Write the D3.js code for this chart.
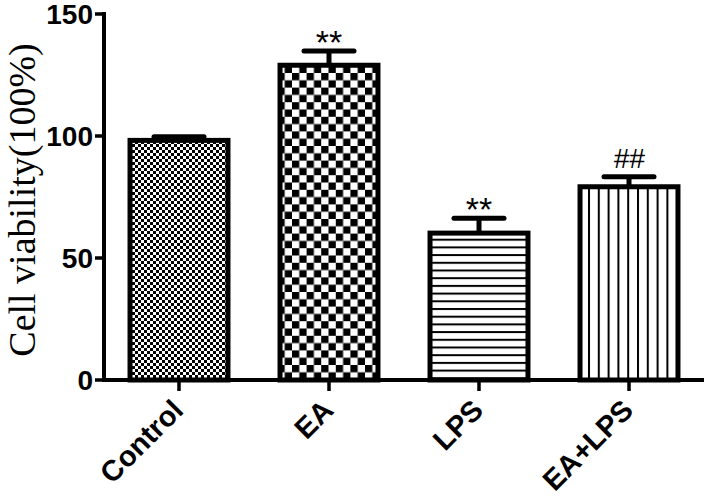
<!DOCTYPE html>
<html>
<head>
<meta charset="utf-8">
<script src="https://cdn.jsdelivr.net/npm/d3@7"></script>
<style>
  body { margin: 0; background: #fff; }
  svg { display: block; }
</style>
</head>
<body>
<div id="chart"></div>
<script>
// data
const groups = ['Control', 'EA', 'LPS', 'EA+LPS'];
const means = [98.2, 129, 60.2, 79.2];
const errors = [1.5, 5.8, 6.1, 4.1];
const marks = ['', '**', '**', '##'];
const yTicks = [0, 50, 100, 150];
const patterns = ['checkFine', 'checkCoarse', 'hLines', 'vLines'];

const width = 709, height = 502;

const svg = d3.select('#chart').append('svg')
  .attr('width', width)
  .attr('height', height);

const defs = svg.append('defs');

// fill patterns
function checker(id, c) {
  const p = defs.append('pattern')
    .attr('id', id)
    .attr('patternUnits', 'userSpaceOnUse')
    .attr('width', c * 2).attr('height', c * 2);
  p.append('rect').attr('width', c * 2).attr('height', c * 2).attr('fill', '#fff');
  p.append('rect').attr('width', c).attr('height', c).attr('fill', '#000');
  p.append('rect').attr('x', c).attr('y', c).attr('width', c).attr('height', c).attr('fill', '#000');
}
checker('checkFine', 3);
checker('checkCoarse', 7.3);

const ph = defs.append('pattern')
  .attr('id', 'hLines')
  .attr('patternUnits', 'userSpaceOnUse')
  .attr('width', 10).attr('height', 7.7);
ph.append('rect').attr('width', 10).attr('height', 7.7).attr('fill', '#fff');
ph.append('rect').attr('y', 0).attr('width', 10).attr('height', 2).attr('fill', '#000');

const pv = defs.append('pattern')
  .attr('id', 'vLines')
  .attr('patternUnits', 'userSpaceOnUse')
  .attr('width', 9.8).attr('height', 10);
pv.append('rect').attr('width', 9.8).attr('height', 10).attr('fill', '#fff');
pv.append('rect').attr('x', 0).attr('width', 2).attr('height', 10).attr('fill', '#000');

// scales
const x = d3.scaleBand()
  .domain(groups)
  .range([104, 704])
  .paddingInner(0.347)
  .paddingOuter(0.1735);

const y = d3.scaleLinear()
  .domain([0, 150])
  .range([380, 14]);

// bars
const bars = svg.append('g');
bars.selectAll('rect')
  .data(groups)
  .join('rect')
  .attr('x', (d) => x(d))
  .attr('y', (d, i) => y(means[i]))
  .attr('width', x.bandwidth())
  .attr('height', (d, i) => y(0) - y(means[i]))
  .attr('fill', (d, i) => `url(#${patterns[i]})`)
  .attr('stroke', '#000')
  .attr('stroke-width', 5);

// error bars (upper only)
const err = svg.append('g')
  .attr('stroke', '#000')
  .attr('stroke-width', 5)
  .attr('stroke-linecap', 'round');

err.selectAll('line.stem')
  .data(groups)
  .join('line')
  .attr('class', 'stem')
  .attr('x1', (d) => x(d) + x.bandwidth() / 2)
  .attr('x2', (d) => x(d) + x.bandwidth() / 2)
  .attr('y1', (d, i) => y(means[i]))
  .attr('y2', (d, i) => y(means[i] + errors[i]))
  .attr('stroke-linecap', 'butt');

err.selectAll('line.cap')
  .data(groups)
  .join('line')
  .attr('class', 'cap')
  .attr('x1', (d) => x(d) + x.bandwidth() / 2 - 25)
  .attr('x2', (d) => x(d) + x.bandwidth() / 2 + 25)
  .attr('y1', (d, i) => y(means[i] + errors[i]))
  .attr('y2', (d, i) => y(means[i] + errors[i]));

// significance marks
svg.append('g')
  .selectAll('text')
  .data(groups)
  .join('text')
  .attr('x', (d) => x(d) + x.bandwidth() / 2)
  .attr('y', (d, i) => y(means[i] + errors[i]) - (marks[i] === '##' ? 9 : -3))
  .attr('text-anchor', 'middle')
  .attr('font-family', 'Liberation Sans, Arial, sans-serif')
  .attr('font-size', (d, i) => (marks[i] === '##' ? 28 : 34))
  .attr('font-style', (d, i) => (marks[i] === '##' ? 'italic' : 'normal'))
  .attr('fill', '#000')
  .text((d, i) => marks[i]);

// y axis
const yAxis = svg.append('g').attr('transform', 'translate(104,0)');
yAxis.append('line')
  .attr('x1', 0).attr('x2', 0)
  .attr('y1', y(150) - 2).attr('y2', y(0) + 2)
  .attr('stroke', '#000').attr('stroke-width', 4);
yAxis.selectAll('line.tick')
  .data(yTicks)
  .join('line')
  .attr('class', 'tick')
  .attr('x1', -9).attr('x2', 0)
  .attr('y1', (d) => y(d)).attr('y2', (d) => y(d))
  .attr('stroke', '#000').attr('stroke-width', 3.5);
yAxis.selectAll('text')
  .data(yTicks)
  .join('text')
  .attr('x', -11)
  .attr('y', (d) => y(d))
  .attr('dy', '0.36em')
  .attr('text-anchor', 'end')
  .attr('font-family', 'Liberation Sans, Arial, sans-serif')
  .attr('font-weight', 'bold')
  .attr('font-size', 28)
  .text((d) => d);

// x axis
const xAxis = svg.append('g').attr('transform', `translate(0,${y(0)})`);
xAxis.append('line')
  .attr('x1', 102).attr('x2', 704)
  .attr('y1', 0).attr('y2', 0)
  .attr('stroke', '#000').attr('stroke-width', 4);
xAxis.selectAll('line.tick')
  .data(groups)
  .join('line')
  .attr('class', 'tick')
  .attr('x1', (d) => x(d) + x.bandwidth() / 2)
  .attr('x2', (d) => x(d) + x.bandwidth() / 2)
  .attr('y1', 0).attr('y2', 11)
  .attr('stroke', '#000').attr('stroke-width', 3.5);
xAxis.selectAll('text')
  .data(groups)
  .join('text')
  .attr('transform', (d) => `translate(${x(d) + x.bandwidth() / 2 + 6},32) rotate(-45)`)
  .attr('text-anchor', 'end')
  .attr('font-family', 'Liberation Sans, Arial, sans-serif')
  .attr('font-weight', 'bold')
  .attr('font-size', 29)
  .text((d) => d);

// y label
svg.append('text')
  .attr('transform', 'translate(35,200) rotate(-90)')
  .attr('text-anchor', 'middle')
  .attr('font-family', 'Liberation Serif, Times New Roman, serif')
  .attr('font-size', 38)
  .text('Cell viability(100%)');
</script>
</body>
</html>
